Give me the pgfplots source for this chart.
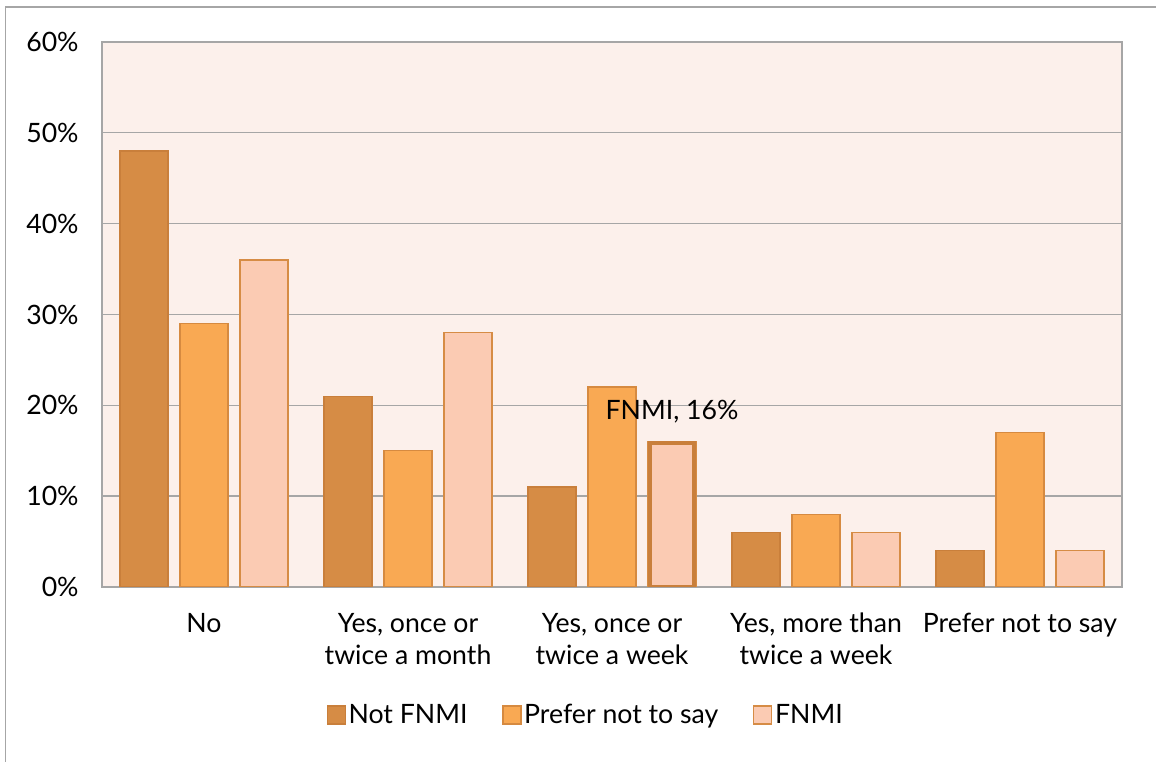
\documentclass[border=0pt]{standalone}
\usepackage{pgfplots}
\pgfplotsset{compat=1.18}
\usepackage{fontspec}
\setmainfont{Lato}
\definecolor{bgc}{HTML}{FCF0EB}
\definecolor{gridc}{HTML}{A6A6A6}
\definecolor{c1}{HTML}{D68C45}
\definecolor{c1b}{HTML}{C97F3B}
\definecolor{c2}{HTML}{F9A953}
\definecolor{c2b}{HTML}{D68A40}
\definecolor{c3}{HTML}{FBCBB3}
\definecolor{c3b}{HTML}{D68C45}
\newcommand{\fs}{\fontsize{20}{24}\selectfont}
\begin{document}
\begin{tikzpicture}
\useasboundingbox (0pt,0pt) rectangle (867pt,571.5pt);
\draw[gridc, line width=1pt] (4.1pt,0pt) -- (4.1pt,566.25pt) -- (867pt,566.25pt);
\begin{axis}[
  at={(76.5pt,131.25pt)}, anchor=south west,
  scale only axis, width=765pt, height=408.75pt,
  axis background/.style={fill=bgc},
  ymin=0, ymax=60, ytick={0,10,...,60},
  xmin=-0.5, xmax=4.5,
  xtick={0,1,2,3,4},
  xticklabels={No, {Yes, once or\\twice a month}, {Yes, once or\\twice a week}, {Yes, more than\\twice a week}, Prefer not to say},
  x tick label style={align=center, font=\fs, yshift=-16pt, text depth=0pt},
  y tick label style={font=\fs, xshift=-14pt},
  yticklabel={\pgfmathprintnumber{\tick}\%},
  /pgf/number format/assume math mode=true,
  ymajorgrids, grid style={gridc, line width=1pt},
  axis line style={gridc, line width=1pt},
  major tick length=0pt,
  ybar, bar width=0.235,
  legend columns=3,
  legend style={draw=none, fill=none, font=\fs, at={(0.4745,-0.2349)}, anchor=center, /tikz/every even column/.append style={column sep=24pt}},
  legend image code/.code={\draw[#1, line width=1pt] (0pt,-6.75pt) rectangle (13.5pt,6.75pt);},
]
\addplot[fill=c1, draw=c1b, line width=1pt, bar shift=-0.294] coordinates {(0,48) (1,21) (2,11) (3,6) (4,4)};
\addplot[fill=c2, draw=c2b, line width=1pt, bar shift=0] coordinates {(0,29) (1,15) (2,22) (3,8) (4,17)};
\addplot[fill=c3, draw=c3b, line width=1pt, bar shift=0.294] coordinates {(0,36) (1,28) (2,16) (3,6) (4,4)};
\legend{Not FNMI, Prefer not to say, FNMI}
\addplot[forget plot, fill=c3, draw=c1b, line width=3pt, bar shift=0.294, bar width=0.218] coordinates {(2,15.85)};
\node[font=\fs, text=black] at (axis cs:2.294,19.3) {FNMI, 16\%};
\end{axis}
\end{tikzpicture}
\end{document}
